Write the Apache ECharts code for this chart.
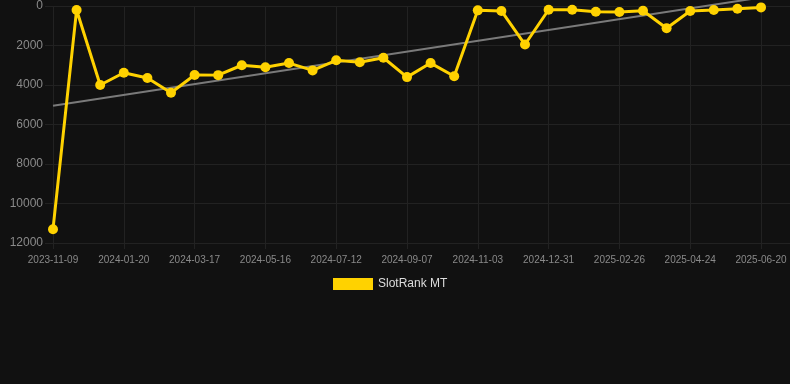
<!DOCTYPE html>
<html>
<head>
<meta charset="utf-8">
<script src="https://cdn.jsdelivr.net/npm/echarts@6/dist/echarts.min.js"></script>
<style>
  html, body { margin: 0; padding: 0; background: #111111; }
  #chart { width: 790px; height: 384px; }
</style>
</head>
<body>
<div id="chart"></div>
<script>
// categories (only every third date is shown on the axis)
const dates = [
    '2023-11-09', '2023-12-03', '2023-12-27',
    '2024-01-20', '2024-02-08', '2024-02-27',
    '2024-03-17', '2024-04-06', '2024-04-26',
    '2024-05-16', '2024-06-04', '2024-06-23',
    '2024-07-12', '2024-07-31', '2024-08-19',
    '2024-09-07', '2024-09-26', '2024-10-15',
    '2024-11-03', '2024-11-22', '2024-12-12',
    '2024-12-31', '2025-01-19', '2025-02-07',
    '2025-02-26', '2025-03-17', '2025-04-05',
    '2025-04-24', '2025-05-13', '2025-06-01',
    '2025-06-20'
];

const rankMT = [
    11300, 200, 4000, 3380, 3650, 4390, 3490, 3500, 3000, 3100,
    2890, 3260, 2750, 2850, 2620, 3600, 2890, 3560, 220, 250,
    1950, 190, 190, 290, 300, 240, 1130, 250, 200, 140,
    70
];

// trend line end points
const trendStart = 5050;
const trendEnd = -430;

const yTicks = [0, 2000, 4000, 6000, 8000, 10000, 12000];

let trend = dates.map(() => null);
trend[0] = trendStart;
trend[trend.length - 1] = trendEnd;

const gridColor = '#222222';
const labelColor = '#8a8a8a';
const font = 'Liberation Sans, Arial, sans-serif';

let chart = echarts.init(document.getElementById('chart'));

// y axis shared settings; the right copy only draws the grid lines out to the edge
function buildYAxis(pos) {
    return {
        type: 'value',
        position: pos,
        inverse: true,
        min: yTicks[0],
        max: yTicks[yTicks.length - 1],
        interval: 2000,
        axisLine: { show: false },
        axisTick: {
            show: true,
            length: pos == 'left' ? 8 : 29,
            lineStyle: { color: gridColor }
        },
        axisLabel: {
            show: pos == 'left',
            color: labelColor,
            fontSize: 12,
            margin: 10,
            formatter: (v) => String(v),
            fontFamily: font
        },
        splitLine: { show: pos == 'left', lineStyle: { color: gridColor, width: 1 } }
    };
}

chart.setOption({
    backgroundColor: '#111111',
    animation: false,
    grid: { left: 53, right: 29, top: 6, bottom: 141 },
    legend: {
        data: ['SlotRank MT'],
        left: 328,
        top: 273,
        itemWidth: 40,
        itemHeight: 12,
        icon: 'rect',
        textStyle: { color: '#dddddd', fontSize: 12, fontFamily: font }
    },
    xAxis: {
        type: 'category',
        data: dates,
        boundaryGap: false,
        axisLine: { show: false, onZero: false },
        axisTick: { show: true, interval: 2, length: 6, lineStyle: { color: gridColor } },
        axisLabel: {
            interval: 2,
            color: labelColor,
            fontSize: 10,
            margin: 12,
            fontFamily: font
        },
        splitLine: { show: true, interval: 2, lineStyle: { color: gridColor, width: 1 } }
    },
    yAxis: [buildYAxis('left'), buildYAxis('right')],
    series: [
        {
            name: 'trend',
            type: 'line',
            data: trend,
            connectNulls: true,
            clip: false,
            symbol: 'none',
            silent: true,
            lineStyle: { color: '#7a7a7a', width: 2 },
            z: 1
        },
        {
            name: 'SlotRank MT',
            type: 'line',
            data: rankMT,
            symbol: 'circle',
            symbolSize: 10,
            color: '#ffd200',
            lineStyle: { color: '#ffd200', width: 3 },
            itemStyle: { color: '#ffd200' },
            z: 3
        }
    ]
});
</script>
</body>
</html>
